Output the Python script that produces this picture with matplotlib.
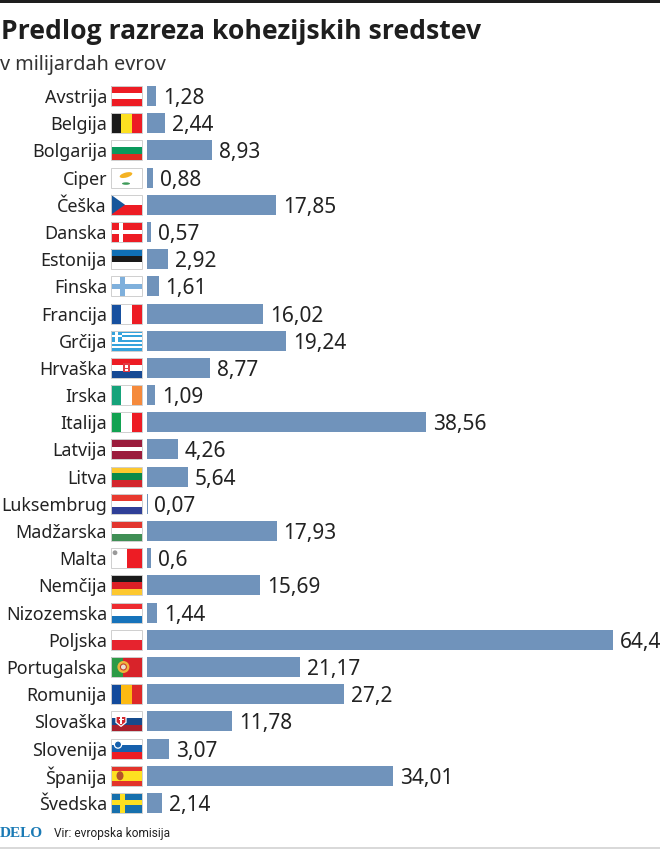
import matplotlib
matplotlib.use("Agg")
import matplotlib.pyplot as plt
from matplotlib.patches import Rectangle, Polygon, Circle, Ellipse

countries = ["Avstrija", "Belgija", "Bolgarija", "Ciper", "Češka", "Danska", "Estonija", "Finska",
             "Francija", "Grčija", "Hrvaška", "Irska", "Italija", "Latvija", "Litva", "Luksembrug",
             "Madžarska", "Malta", "Nemčija", "Nizozemska", "Poljska", "Portugalska", "Romunija",
             "Slovaška", "Slovenija", "Španija", "Švedska"]
values = [1.28, 2.44, 8.93, 0.88, 17.85, 0.57, 2.92, 1.61, 16.02, 19.24, 8.77, 1.09, 38.56, 4.26,
          5.64, 0.07, 17.93, 0.6, 15.69, 1.44, 64.4, 21.17, 27.2, 11.78, 3.07, 34.01, 2.14]
labels = ["1,28", "2,44", "8,93", "0,88", "17,85", "0,57", "2,92", "1,61", "16,02", "19,24", "8,77",
          "1,09", "38,56", "4,26", "5,64", "0,07", "17,93", "0,6", "15,69", "1,44", "64,4", "21,17",
          "27,2", "11,78", "3,07", "34,01", "2,14"]

R, W = "#ed1c24", "#ffffff"
h_flags = {
    "Avstrija": [(R, 1), (W, 1), (R, 1)],
    "Bolgarija": [("#ffffff", 1), ("#0a9a5c", 1), ("#e02b20", 1)],
    "Hrvaška": [(R, 1), (W, 1), ("#174a94", 1)],
    "Češka": [(W, 1), (R, 1)],
    "Estonija": [("#0f6fb5", 1), ("#1a1a1a", 1), (W, 1)],
    "Latvija": [("#9b1c3c", 2), (W, 1), ("#9b1c3c", 2)],
    "Litva": [("#fdc82f", 1), ("#0a8a4a", 1), ("#d3262d", 1)],
    "Luksembrug": [("#e8392f", 1), (W, 1), ("#2f3f97", 1)],
    "Madžarska": [("#e2352e", 1), (W, 1), ("#3f8f55", 1)],
    "Nemčija": [("#1a1a1a", 1), ("#dd1f26", 1), ("#fdc82f", 1)],
    "Nizozemska": [("#ed2b30", 1), (W, 1), ("#1673bb", 1)],
    "Poljska": [(W, 1), ("#e6232e", 1)],
    "Slovaška": [(W, 1), ("#154a8c", 1), ("#a81e2b", 1)],
    "Slovenija": [(W, 1), ("#1560ad", 1), (R, 1)],
    "Španija": [("#e2342b", 1), ("#fde021", 2), ("#e2342b", 1)],
}
v_flags = {
    "Belgija": ["#1a1a1a", "#fde021", R],
    "Francija": ["#17509f", W, R],
    "Irska": ["#16a37a", W, "#f58a3c"],
    "Italija": ["#12a251", W, R],
    "Romunija": ["#124a9c", "#fdba12", "#de2828"],
}

fig = plt.figure(figsize=(6.6, 8.49), dpi=100)
W_PX, H_PX = 660, 849
FIRST_Y, PITCH, BAR_H = 96.0, 27.19, 20
BAR_X0, PX_PER_UNIT = 147, 7.23
FONT = "Noto Sans"
TXT = "#222222"

# pixel-space overlay
ov = fig.add_axes([0, 0, 1, 1])
ov.set_xlim(0, W_PX); ov.set_ylim(H_PX, 0); ov.axis("off")

# bars
ax = fig.add_axes([BAR_X0 / W_PX, 0, 1 - BAR_X0 / W_PX, 1])
ax.set_xlim(0, (W_PX - BAR_X0) / PX_PER_UNIT)
ax.set_ylim((H_PX - FIRST_Y) / PITCH, -FIRST_Y / PITCH)
ax.axis("off"); ax.patch.set_alpha(0)
ys = list(range(len(countries)))
ax.barh(ys, values, height=BAR_H / PITCH, color="#7093bb", edgecolor="none")
for y, v, l in zip(ys, values, labels):
    ax.annotate(l, (v, y), xytext=(5.0, 0), textcoords="offset points", va="center_baseline",
                ha="left", fontsize=15.0, family=FONT, color=TXT)

FX0, FW, FH = 111, 31, 20


def rect(x, y, w, h, c, z=3):
    ov.add_patch(Rectangle((x, y), w, h, fc=c, ec="none", zorder=z))


def flag(name, cy):
    top = cy - FH / 2
    if name in h_flags:
        parts = h_flags[name]
        tot = sum(p[1] for p in parts)
        y = top
        for c, n in parts:
            rect(FX0, y, FW, FH * n / tot, c)
            y += FH * n / tot
    elif name in v_flags:
        for i, c in enumerate(v_flags[name]):
            rect(FX0 + i * FW / 3, top, FW / 3, FH, c)
    elif name in ("Danska", "Finska", "Švedska"):
        bg, cr, off, wd = {"Danska": (R, W, 8, 3.5), "Finska": (W, "#7fb0dc", 9, 5),
                           "Švedska": ("#1670ad", "#fde021", 9, 5)}[name]
        rect(FX0, top, FW, FH, bg)
        rect(FX0 + off, top, wd, FH, cr, 4)
        rect(FX0, cy - wd / 2, FW, wd, cr, 4)
    elif name == "Grčija":
        for i in range(9):
            rect(FX0, top + i * FH / 9, FW, FH / 9, "#35a3dc" if i % 2 == 0 else W)
        rect(FX0, top, 11, FH * 5 / 9, "#35a3dc", 4)
        rect(FX0 + 4.2, top, 2.4, FH * 5 / 9, W, 5)
        rect(FX0, top + FH * 2 / 9, 11, FH / 9, W, 5)
    elif name == "Portugalska":
        rect(FX0, top, FW * 0.4, FH, "#2d9a46")
        rect(FX0 + FW * 0.4, top, FW * 0.6, FH, "#d8232a")
        ov.add_patch(Circle((FX0 + FW * 0.4, cy), 6, fc="#f0b43c", ec="none", zorder=4))
        ov.add_patch(Circle((FX0 + FW * 0.4, cy), 3, fc="#e8e0d0", ec="#c8402a", lw=0.8, zorder=5))
    elif name == "Malta":
        rect(FX0, top, FW / 2, FH, W)
        rect(FX0 + FW / 2, top, FW / 2, FH, R)
        ov.add_patch(Circle((FX0 + 4, top + 4.5), 2.4, fc="#999999", ec="none", zorder=4))
    elif name == "Ciper":
        rect(FX0, top, FW, FH, W)
        ov.add_patch(Ellipse((FX0 + 15, cy - 2.5), 13, 5, angle=-15, fc="#f4b223", ec="none", zorder=4))
        ov.add_patch(Ellipse((FX0 + 15, cy + 6), 8, 2.5, fc="#3f9b5a", ec="none", zorder=4))
    # details
    if name == "Češka":
        ov.add_patch(Polygon([(FX0, top), (FX0 + 14, cy), (FX0, top + FH)], fc="#17569b", ec="none", zorder=4))
    if name == "Hrvaška":
        rect(FX0 + 12, cy - 5, 7, 9.5, "#e23a42", 4)
        rect(FX0 + 14, cy - 3, 3, 3, W, 5)
        rect(FX0 + 14, cy + 1, 3, 2, W, 5)
    if name == "Slovaška":
        ov.add_patch(Polygon([(FX0 + 5, cy - 5), (FX0 + 15, cy - 5), (FX0 + 15, cy + 1), (FX0 + 10, cy + 5),
                              (FX0 + 5, cy + 1)], fc="#d3262d", ec=W, lw=0.9, zorder=4))
        rect(FX0 + 9.2, cy - 4, 1.6, 6.5, W, 5)
        rect(FX0 + 7.5, cy - 2.5, 5, 1.3, W, 5)
    if name == "Slovenija":
        ov.add_patch(Circle((FX0 + 7, cy - 4), 3.6, fc="#1560ad", ec=W, lw=0.9, zorder=4))
    if name == "Španija":
        ov.add_patch(Ellipse((FX0 + 9, cy), 7, 9, fc="#b5522a", ec="none", zorder=4))
    # light frame
    ov.add_patch(Rectangle((FX0, top), FW, FH, fc="none", ec="#cfcfcf", lw=0.7, zorder=6))


for i, name in enumerate(countries):
    cy = FIRST_Y + i * PITCH
    ov.text(107, cy, name, ha="right", va="center_baseline", fontsize=12.9, family=FONT, color=TXT)
    flag(name, cy)

# header and footer
rect(0, 0, W_PX, 3, "#1e1e1e")
ov.text(1, 29, "Predlog razreza kohezijskih sredstev", ha="left", va="center_baseline", fontsize=19.1,
        fontweight="bold", family="Open Sans", color="#1e1e1e")
ov.text(0, 62, "v milijardah evrov", ha="left", va="center_baseline", fontsize=14.3, family=FONT, color="#333333")
ov.text(0, 832, "DELO", ha="left", va="center_baseline", fontsize=11.0, fontweight="bold",
        family="Liberation Serif", color="#1a7ab5")
ov.text(54, 832, "Vir: evropska komisija", ha="left", va="center_baseline", fontsize=8.6,
        family="Roboto", color="#222222")
rect(0, 847, W_PX, 2, "#d9d9d9")

fig.savefig("out.png", dpi=100, facecolor="white")
